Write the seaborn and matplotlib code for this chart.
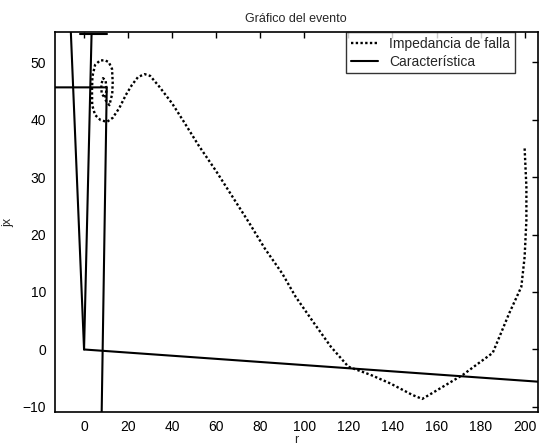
import numpy as np
import pandas as pd
import matplotlib
matplotlib.use("Agg")
import matplotlib.pyplot as plt
import seaborn as sns

# Fault impedance trajectory (r, jx)
imp_r = [9.0, 8.0, 7.8, 8.6, 9.8, 10.2, 9.5, 11.5, 12.8, 13.0, 12.7, 11.2, 9.5, 7.3,
         5.0, 3.8, 3.6, 3.7, 5.0, 7.5, 10.4, 13.0, 16.0, 19.0, 21.7, 24.5, 27.5, 30.0,
         34.0, 40.0, 45.0, 52.0, 60.0, 67.0, 75.0, 82.0, 90.0, 96.0, 104.0, 112.0,
         120.0, 130.0, 139.0, 149.0, 153.5, 158.0, 165.0, 172.0, 178.0, 185.5, 189.0,
         193.0, 196.0, 198.5, 200.0, 200.8, 200.8, 200.0]
imp_x = [44.0, 44.5, 46.0, 47.2, 46.8, 45.2, 43.5, 42.5, 44.5, 46.5, 48.8, 50.0, 50.3, 50.3,
         49.5, 47.5, 45.0, 42.5, 40.8, 39.9, 39.6, 40.3, 42.0, 44.3, 46.0, 47.4, 47.9, 47.6,
         45.8, 42.8, 39.8, 35.5, 31.0, 26.8, 22.0, 17.6, 13.2, 9.2, 4.8, 0.5,
         -3.0, -4.4, -5.9, -7.9, -8.6, -7.6, -6.0, -4.4, -2.7, -0.6, 2.6,
         6.3, 8.8, 10.9, 16.1, 22.5, 28.3, 35.0]

# Relay characteristic, drawn as separate segments
car_seg = [0, 0, 0,
           1, 1, 1,
           2, 2,
           3, 3]
car_r = [-13.4, 10.3, 8.0,
         -6.0, 0.0, 206.0,
         3.4, 0.0,
         -1.8, 10.2]
car_x = [45.6, 45.6, -10.9,
         55.2, 0.0, -5.6,
         54.8, 0.0,
         54.8, 54.8]

x_ticks = [0, 20, 40, 60, 80, 100, 120, 140, 160, 180, 200]
y_ticks = [-10, 0, 10, 20, 30, 40, 50]

sns.set_style("white")
plt.rcParams["font.family"] = ["Liberation Sans", "DejaVu Sans"]

fig = plt.figure(figsize=(5.40, 4.47), dpi=100)
ax = fig.add_axes([0.101, 0.078, 0.895, 0.850])

imp_df = pd.DataFrame({"r": imp_r, "jx": imp_x})
car_df = pd.DataFrame({"seg": car_seg, "r": car_r, "jx": car_x})

sns.lineplot(data=imp_df, x="r", y="jx", sort=False, estimator=None,
             color="black", linestyle=(0, (1, 1.0)), linewidth=1.7, ax=ax, legend=False)
sns.lineplot(data=car_df, x="r", y="jx", units="seg", sort=False, estimator=None,
             color="black", linewidth=1.5, ax=ax, legend=False)

lines = ax.get_lines()
ax.legend(handles=[lines[0], lines[1]],
          labels=["Impedancia de falla", "Característica"],
          loc="upper right", bbox_to_anchor=(0.952, 1.0), borderaxespad=0,
          frameon=True, fancybox=False, edgecolor="black", fontsize=10,
          handlelength=1.9, handletextpad=0.8, borderpad=0.35, labelspacing=0.25)
leg = ax.get_legend()
leg.get_frame().set_linewidth(1.0)

ax.set_xlim(-13.4, 206)
ax.set_ylim(-10.9, 55.2)
ax.set_xticks(x_ticks)
ax.set_yticks(y_ticks)
ax.tick_params(direction="in", length=4, width=1.0, top=True, right=True,
               labelsize=10, pad=6, colors="black")
for s in ax.spines.values():
    s.set_visible(True)
    s.set_color("black")
    s.set_linewidth(1.2)

ax.set_title("Gráfico del evento", fontsize=9, pad=7)
ax.set_xlabel("r", fontsize=9, labelpad=0)
ax.set_ylabel("jx", fontsize=9, labelpad=6)

fig.savefig("out.png", dpi=100, facecolor="white")
